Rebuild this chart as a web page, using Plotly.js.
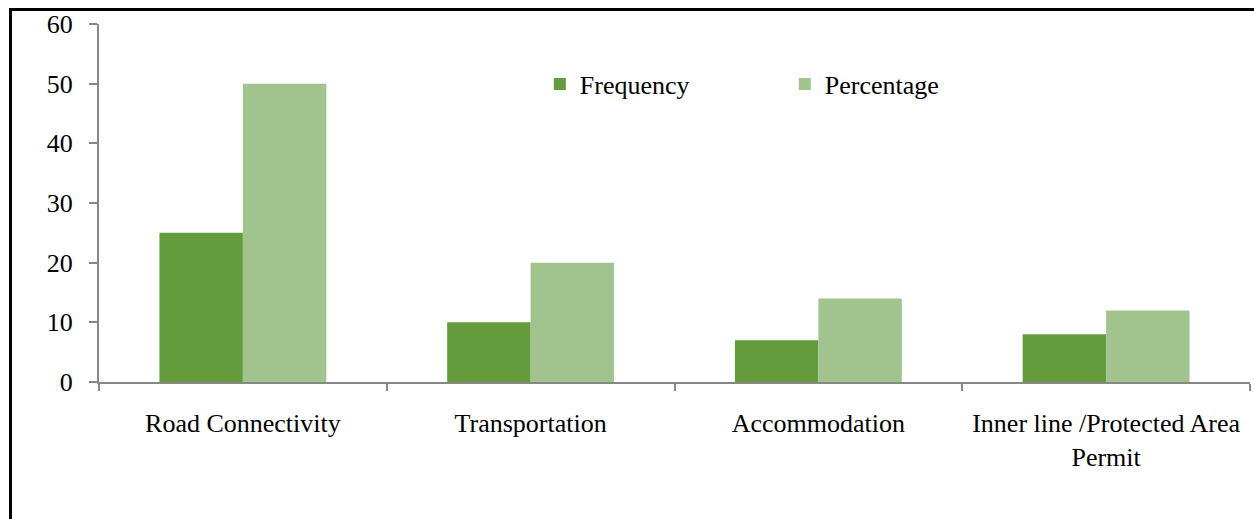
<!DOCTYPE html>
<html>
<head>
<meta charset="utf-8">
<script src="https://cdn.plot.ly/plotly-3.0.1.min.js"></script>
<style>
  html, body { margin: 0; padding: 0; background: #fff; }
  #chart { width: 1254px; height: 519px; position: relative; }
  #frame { position: absolute; left: 9px; top: 8px; width: 1300px; height: 600px;
           border-top: 3px solid #000; border-left: 3px solid #000; pointer-events: none; }
</style>
</head>
<body>
<div style="position:relative;width:1254px;height:519px;overflow:hidden;">
  <div id="chart"></div>
  <div id="frame"></div>
</div>
<script>
const categories = ["Road Connectivity", "Transportation", "Accommodation", "Inner line /Protected Area<br>Permit"];
const frequency = [25, 10, 7, 8];
const percentage = [50, 20, 14, 12];

const fontFamily = "Liberation Serif";

const traces = [
  { type: "bar", name: "Frequency", x: categories, y: frequency,
    marker: { color: "#649b3d", line: { width: 0 } }, hoverinfo: "x+y" },
  { type: "bar", name: "Percentage", x: categories, y: percentage,
    marker: { color: "#a1c48e", line: { width: 0 } }, hoverinfo: "x+y" }
];

const layout = {
  width: 1254, height: 519,
  margin: { l: 99, r: 4, t: 24, b: 137 },
  paper_bgcolor: "#ffffff", plot_bgcolor: "#ffffff",
  font: { family: fontFamily, size: 26, color: "#000" },
  barmode: "group", bargap: 0.42, bargroupgap: 0,
  showlegend: true,
  legend: {
    orientation: "h", x: 0.383, y: 0.898, xanchor: "left", yanchor: "top",
    bgcolor: "rgba(0,0,0,0)", borderwidth: 0,
    font: { family: fontFamily, size: 26, color: "#000" },
    entrywidth: 200, entrywidthmode: "pixels", itemwidth: 30
  },
  xaxis: {
    type: "category", showline: true, linecolor: "#878787", linewidth: 2,
    ticks: "outside", tickson: "boundaries", ticklen: 7, tickcolor: "#878787", tickwidth: 2,
    showgrid: false, zeroline: false, ticklabelstandoff: 17,
    tickfont: { family: fontFamily, size: 26, color: "#000" }
  },
  yaxis: {
    range: [0, 60], dtick: 10, tick0: 0, showline: true, linecolor: "#878787", linewidth: 2,
    ticks: "outside", ticklen: 8, tickcolor: "#878787", tickwidth: 2,
    showgrid: false, zeroline: false, ticklabelstandoff: 11,
    tickfont: { family: fontFamily, size: 26, color: "#000" }
  }
};

Plotly.newPlot("chart", traces, layout, { displayModeBar: false, staticPlot: true });
</script>
</body>
</html>
